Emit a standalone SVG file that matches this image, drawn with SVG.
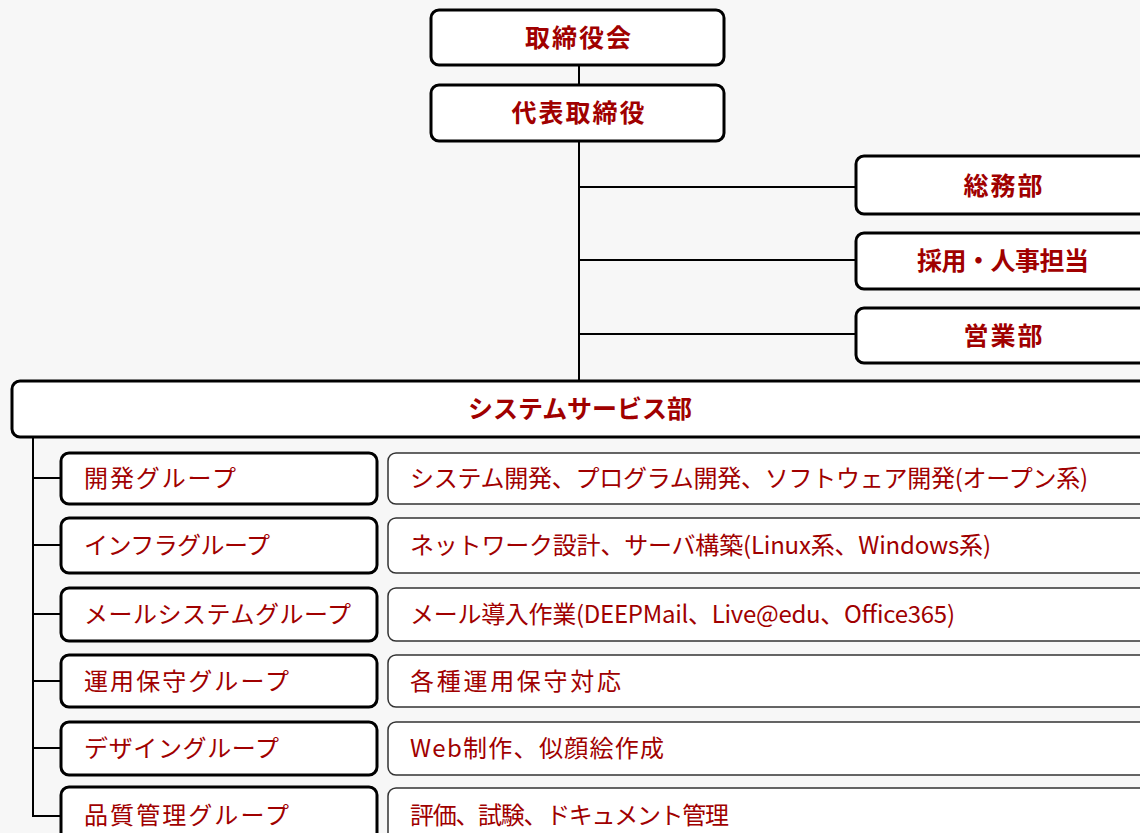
<svg xmlns="http://www.w3.org/2000/svg" width="1140" height="833" viewBox="0 0 1140 833">
<style>
.bg{fill:#f7f7f7}
.box{fill:#ffffff;stroke:#000000;stroke-width:3}
.desc{fill:#ffffff;stroke:#333333;stroke-width:1.5}
.conn{stroke:#000000;stroke-width:2;fill:none}
.tb{font-family:"Noto Sans CJK JP","Noto Sans",sans-serif;font-weight:bold;font-size:25px;fill:#a00000;text-anchor:middle}
.tg{font-family:"Noto Sans CJK JP","Noto Sans",sans-serif;font-size:24px;fill:#a00000}
</style>
<rect class="bg" x="0" y="0" width="1140" height="833"/>
<g id="connectors">
<line class="conn" x1="579" y1="65" x2="579" y2="85"/>
<line class="conn" x1="579" y1="141" x2="579" y2="381"/>
<line class="conn" x1="579" y1="187" x2="856" y2="187"/>
<line class="conn" x1="579" y1="260" x2="856" y2="260"/>
<line class="conn" x1="579" y1="334" x2="856" y2="334"/>
<line class="conn" x1="33" y1="437" x2="33" y2="817"/>
<line class="conn" x1="33" y1="478" x2="61" y2="478"/>
<line class="conn" x1="33" y1="545" x2="61" y2="545"/>
<line class="conn" x1="33" y1="614" x2="61" y2="614"/>
<line class="conn" x1="33" y1="681" x2="61" y2="681"/>
<line class="conn" x1="33" y1="748" x2="61" y2="748"/>
<line class="conn" x1="33" y1="816" x2="61" y2="816"/>
</g>
<g id="board">
<rect class="box" x="431" y="10" width="293" height="55" rx="8"/>
<text class="tb" x="578" y="47" textLength="106">取締役会</text>
</g>
<g id="ceo">
<rect class="box" x="431" y="85" width="293" height="56" rx="8"/>
<text class="tb" x="578" y="122" textLength="133">代表取締役</text>
</g>
<g id="soumu">
<rect class="box" x="856" y="156" width="300" height="58" rx="8"/>
<text class="tb" x="1003" y="195" textLength="79">総務部</text>
</g>
<g id="jinji">
<rect class="box" x="856" y="233" width="300" height="56" rx="8"/>
<text class="tb" x="1003" y="270" textLength="172">採用・人事担当</text>
</g>
<g id="eigyo">
<rect class="box" x="856" y="308" width="300" height="55" rx="8"/>
<text class="tb" x="1003" y="345" textLength="79">営業部</text>
</g>
<g id="system">
<rect class="box" x="12" y="381" width="1150" height="56" rx="8"/>
<text class="tb" x="580" y="418" textLength="224">システムサービス部</text>
</g>
<g id="dev">
<rect class="box" x="61" y="453" width="316" height="51" rx="8"/>
<text class="tg" x="84" y="487" textLength="152">開発グループ</text>
<rect class="desc" x="388" y="453" width="770" height="51" rx="8"/>
<text class="tg" x="410" y="487" textLength="678">システム開発、プログラム開発、ソフトウェア開発(オープン系)</text>
</g>
<g id="infra">
<rect class="box" x="61" y="518" width="316" height="55" rx="8"/>
<text class="tg" x="84" y="554" textLength="186">インフラグループ</text>
<rect class="desc" x="388" y="518" width="770" height="55" rx="8"/>
<text class="tg" x="410" y="554" textLength="581">ネットワーク設計、サーバ構築(Linux系、Windows系)</text>
</g>
<g id="mail">
<rect class="box" x="61" y="588" width="316" height="53" rx="8"/>
<text class="tg" x="84" y="623" textLength="267">メールシステムグループ</text>
<rect class="desc" x="388" y="588" width="770" height="53" rx="8"/>
<text class="tg" x="410" y="623" textLength="545">メール導入作業(DEEPMail、Live@edu、Office365)</text>
</g>
<g id="ops">
<rect class="box" x="61" y="655" width="316" height="52" rx="8"/>
<text class="tg" x="84" y="690" textLength="205">運用保守グループ</text>
<rect class="desc" x="388" y="655" width="770" height="52" rx="8"/>
<text class="tg" x="410" y="690" textLength="211">各種運用保守対応</text>
</g>
<g id="design">
<rect class="box" x="61" y="722" width="316" height="53" rx="8"/>
<text class="tg" x="84" y="757" textLength="195">デザイングループ</text>
<rect class="desc" x="388" y="722" width="770" height="53" rx="8"/>
<text class="tg" x="410" y="757" textLength="254">Web制作、似顔絵作成</text>
</g>
<g id="qa">
<rect class="box" x="61" y="787" width="316" height="60" rx="8"/>
<text class="tg" x="84" y="824" textLength="205">品質管理グループ</text>
<rect class="desc" x="388" y="788" width="770" height="60" rx="8"/>
<text class="tg" x="410" y="824" textLength="319">評価、試験、ドキュメント管理</text>
</g>
</svg>
